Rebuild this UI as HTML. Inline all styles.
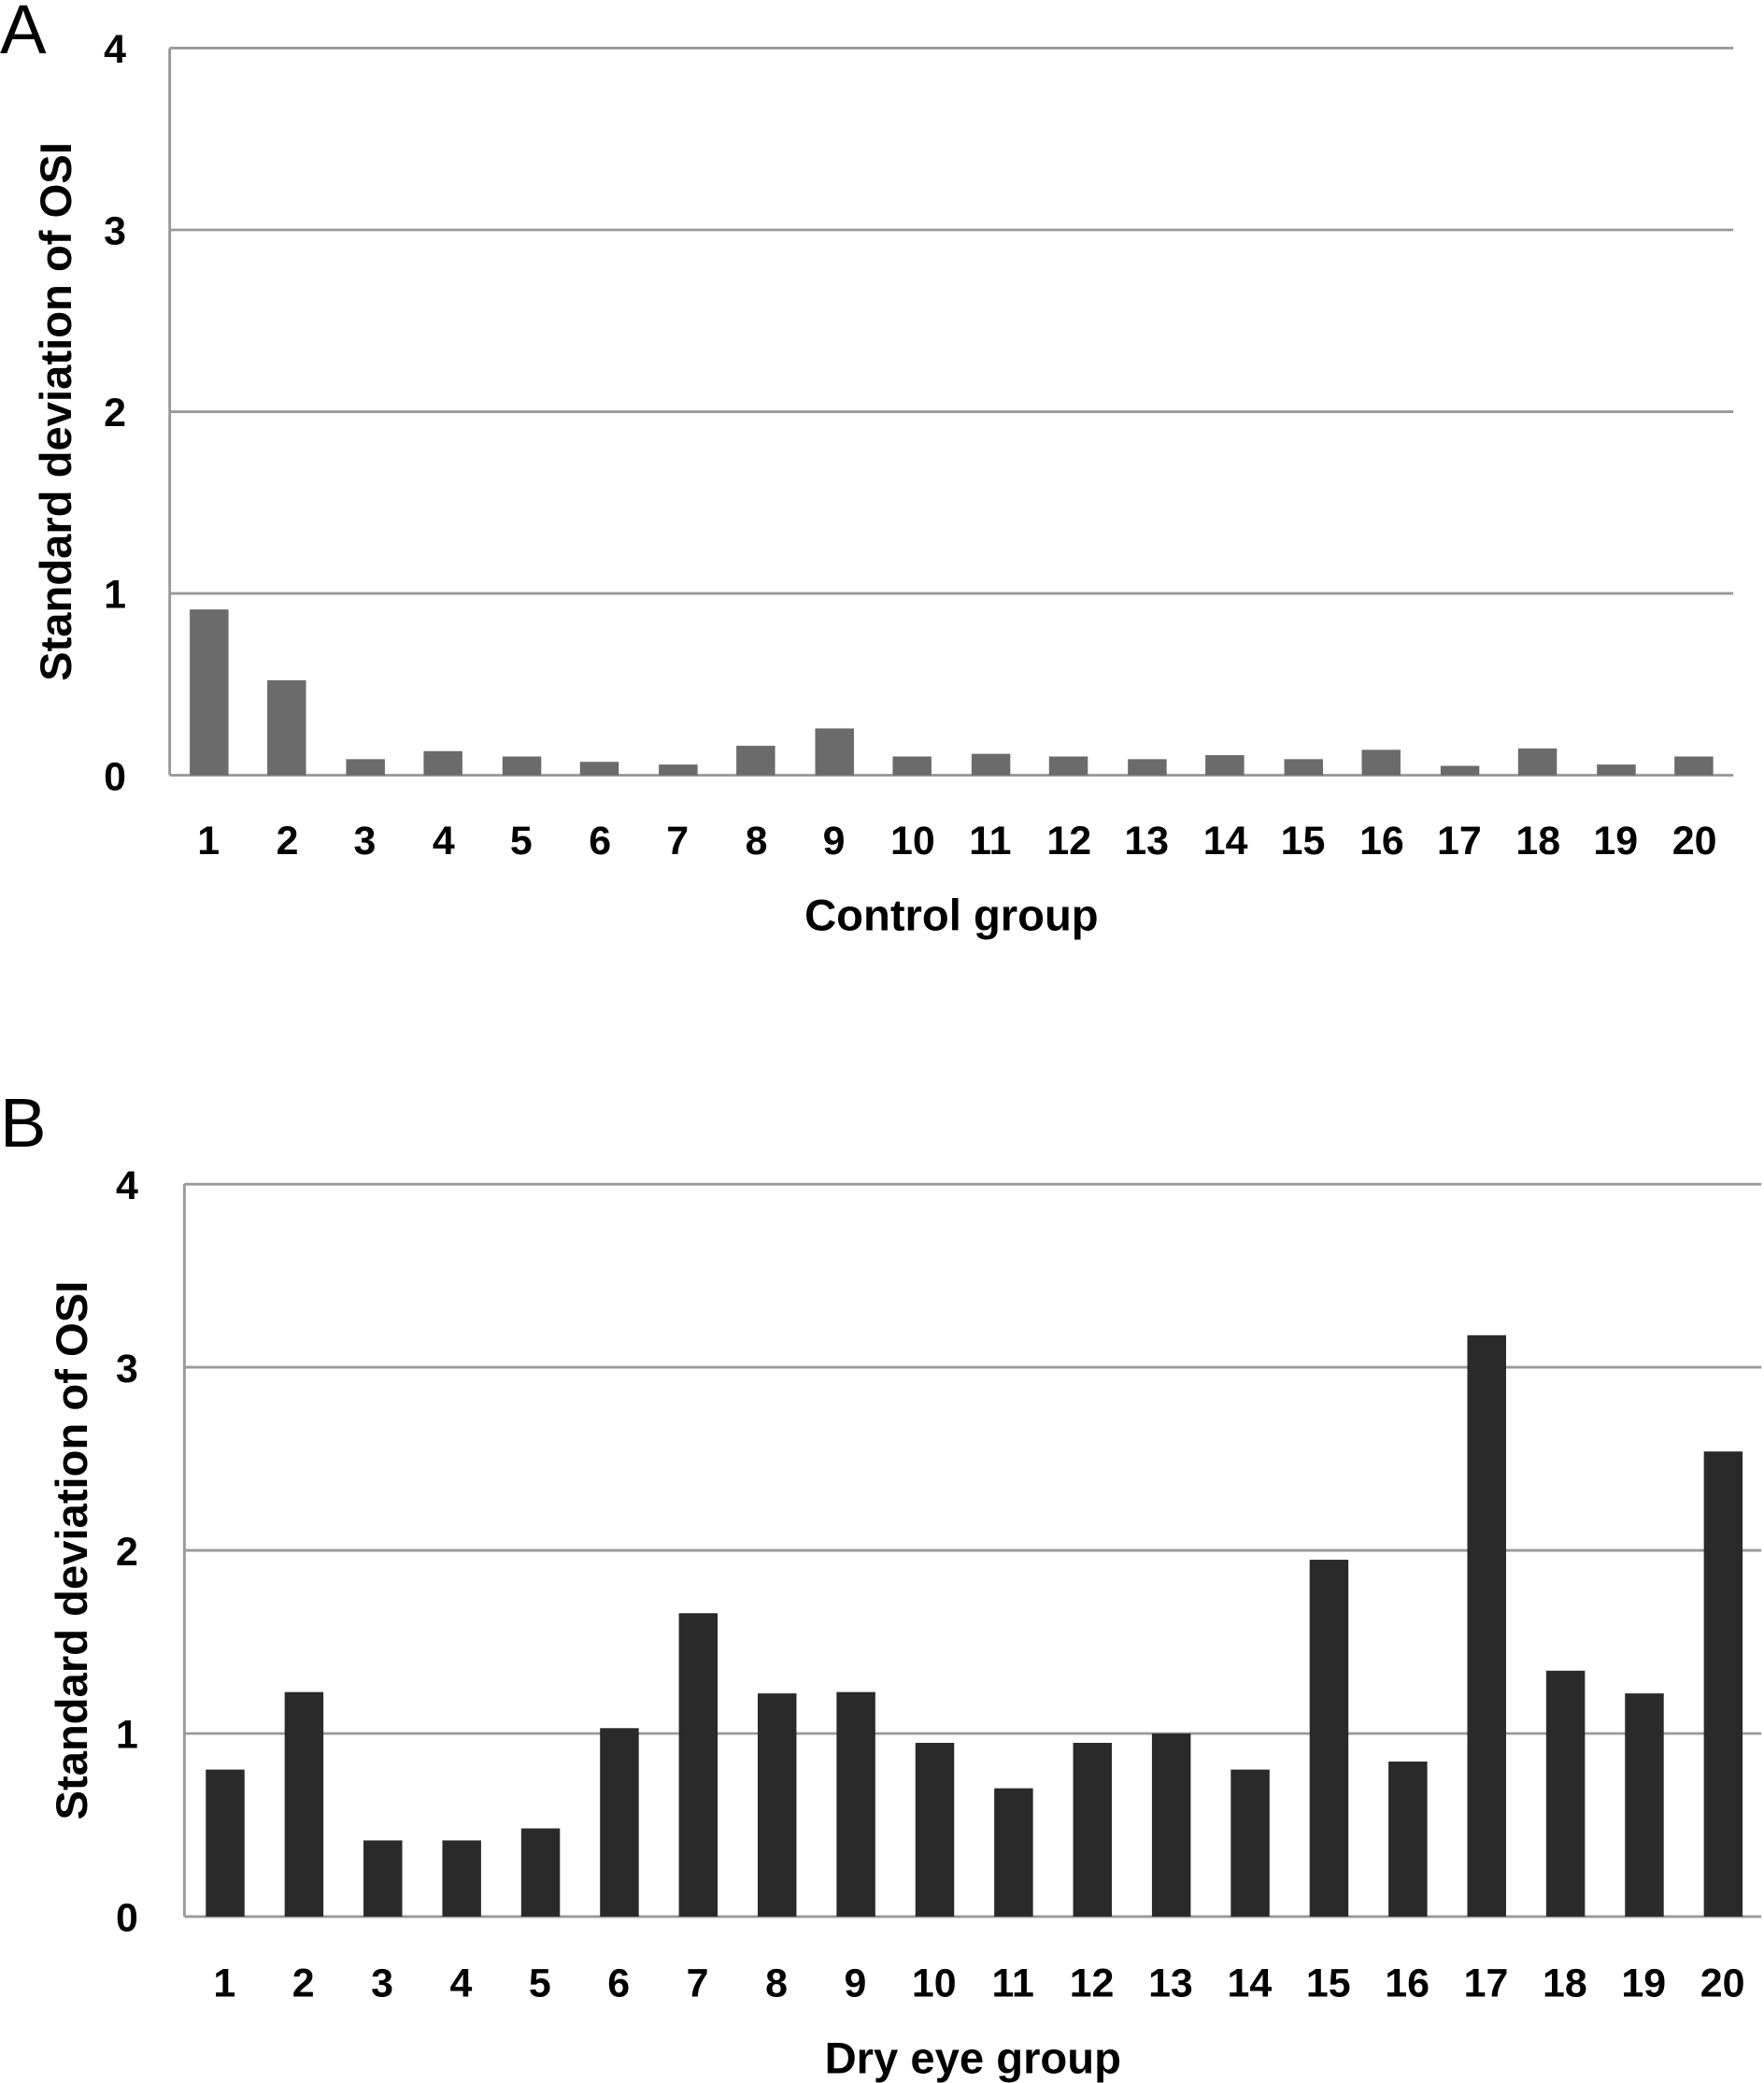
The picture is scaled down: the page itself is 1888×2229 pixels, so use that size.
<!DOCTYPE html>
<html><head><style>html,body{margin:0;padding:0;background:#fff}svg{display:block}</style></head>
<body>
<svg width="1888" height="2229" viewBox="0 0 1320 1558.5" preserveAspectRatio="none" xmlns="http://www.w3.org/2000/svg" font-family="Liberation Sans, DejaVu Sans, sans-serif">
<rect width="1320" height="1560" fill="#fff"/>
<text x="0" y="40" font-size="52">A</text>
<text x="0" y="858" font-size="52">B</text>
<g stroke="#999" stroke-width="2">
<line x1="127" y1="36" x2="1297" y2="36"/><line x1="127" y1="172" x2="1297" y2="172"/>
<line x1="127" y1="308" x2="1297" y2="308"/><line x1="127" y1="444" x2="1297" y2="444"/>
<line x1="127" y1="580" x2="1297" y2="580"/><line x1="127" y1="36" x2="127" y2="580"/>
<line x1="138" y1="886" x2="1318" y2="886"/><line x1="138" y1="1023" x2="1318" y2="1023"/>
<line x1="138" y1="1160" x2="1318" y2="1160"/><line x1="138" y1="1297" x2="1318" y2="1297"/>
<line x1="138" y1="1434" x2="1318" y2="1434"/><line x1="138" y1="886" x2="138" y2="1434"/>
</g>
<g font-size="30" font-weight="bold" text-anchor="middle">
<text x="86" y="47">4</text><text x="86" y="183">3</text><text x="86" y="319">2</text><text x="86" y="455">1</text><text x="86" y="591">0</text>
<text x="712" y="696" font-size="33">Control group</text>
<text transform="translate(53,308) rotate(-90)" font-size="33">Standard deviation of OSI</text>
<text x="95" y="897">4</text><text x="95" y="1034">3</text><text x="95" y="1171">2</text><text x="95" y="1308">1</text><text x="95" y="1445">0</text>
<text x="728" y="1551" font-size="33">Dry eye group</text>
<text transform="translate(65,1160) rotate(-90)" font-size="33">Standard deviation of OSI</text>
</g>
<g fill="#6b6b6b">
<rect x="142" y="456" width="29" height="124"/><rect x="200" y="509" width="29" height="71"/><rect x="259" y="568" width="29" height="12"/><rect x="317" y="562" width="29" height="18"/><rect x="376" y="566" width="29" height="14"/><rect x="434" y="570" width="29" height="10"/><rect x="493" y="572" width="29" height="8"/><rect x="551" y="558" width="29" height="22"/><rect x="610" y="545" width="29" height="35"/><rect x="668" y="566" width="29" height="14"/><rect x="727" y="564" width="29" height="16"/><rect x="785" y="566" width="29" height="14"/><rect x="844" y="568" width="29" height="12"/><rect x="902" y="565" width="29" height="15"/><rect x="961" y="568" width="29" height="12"/><rect x="1019" y="561" width="29" height="19"/><rect x="1078" y="573" width="29" height="7"/><rect x="1136" y="560" width="29" height="20"/><rect x="1195" y="572" width="29" height="8"/><rect x="1253" y="566" width="29" height="14"/>
</g>
<g font-size="30" font-weight="bold" text-anchor="middle">
<text x="156" y="639">1</text><text x="215" y="639">2</text><text x="273" y="639">3</text><text x="332" y="639">4</text><text x="390" y="639">5</text><text x="449" y="639">6</text><text x="507" y="639">7</text><text x="566" y="639">8</text><text x="624" y="639">9</text><text x="683" y="639">10</text><text x="741" y="639">11</text><text x="800" y="639">12</text><text x="858" y="639">13</text><text x="917" y="639">14</text><text x="975" y="639">15</text><text x="1034" y="639">16</text><text x="1092" y="639">17</text><text x="1151" y="639">18</text><text x="1209" y="639">19</text><text x="1268" y="639">20</text>
</g>
<g fill="#2a2a2a">
<rect x="154" y="1324" width="29" height="110"/><rect x="213" y="1266" width="29" height="168"/><rect x="272" y="1377" width="29" height="57"/><rect x="331" y="1377" width="29" height="57"/><rect x="390" y="1368" width="29" height="66"/><rect x="449" y="1293" width="29" height="141"/><rect x="508" y="1207" width="29" height="227"/><rect x="567" y="1267" width="29" height="167"/><rect x="626" y="1266" width="29" height="168"/><rect x="685" y="1304" width="29" height="130"/><rect x="744" y="1338" width="29" height="96"/><rect x="803" y="1304" width="29" height="130"/><rect x="862" y="1297" width="29" height="137"/><rect x="921" y="1324" width="29" height="110"/><rect x="980" y="1167" width="29" height="267"/><rect x="1039" y="1318" width="29" height="116"/><rect x="1098" y="999" width="29" height="435"/><rect x="1157" y="1250" width="29" height="184"/><rect x="1216" y="1267" width="29" height="167"/><rect x="1275" y="1086" width="29" height="348"/>
</g>
<g font-size="30" font-weight="bold" text-anchor="middle">
<text x="168" y="1494">1</text><text x="227" y="1494">2</text><text x="286" y="1494">3</text><text x="345" y="1494">4</text><text x="404" y="1494">5</text><text x="463" y="1494">6</text><text x="522" y="1494">7</text><text x="581" y="1494">8</text><text x="640" y="1494">9</text><text x="699" y="1494">10</text><text x="758" y="1494">11</text><text x="817" y="1494">12</text><text x="876" y="1494">13</text><text x="935" y="1494">14</text><text x="994" y="1494">15</text><text x="1053" y="1494">16</text><text x="1112" y="1494">17</text><text x="1171" y="1494">18</text><text x="1230" y="1494">19</text><text x="1289" y="1494">20</text>
</g>
</svg>
</body></html>
